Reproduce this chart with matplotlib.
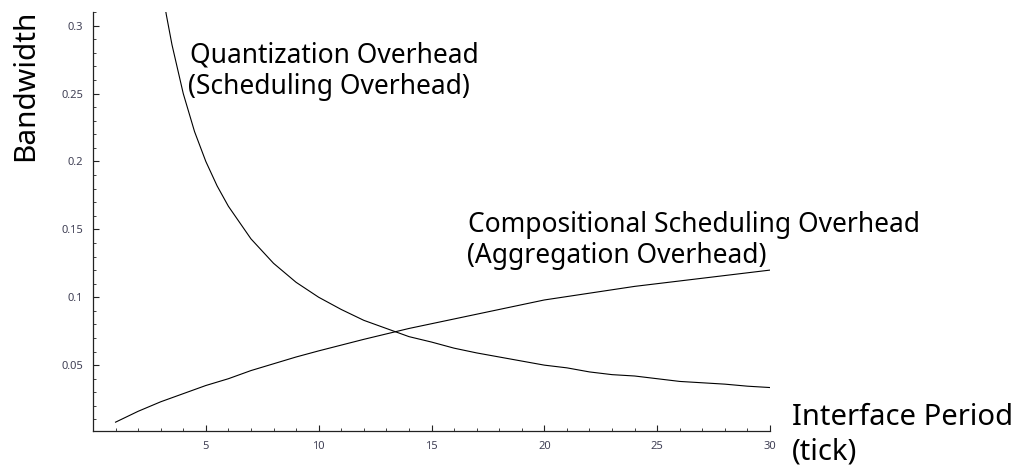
import matplotlib
matplotlib.use("Agg")
import matplotlib.pyplot as plt
from matplotlib.ticker import MultipleLocator

# values
period_q = [3, 3.25, 3.5, 4, 4.5, 5, 5.5, 6, 7, 8, 9, 10, 11, 12, 13, 14, 15,
            16, 17, 18, 19, 20, 21, 22, 23, 24, 25, 26, 27, 28, 29, 30]
quant_overhead = [0.333, 0.308, 0.286, 0.25, 0.222, 0.2, 0.182, 0.167, 0.143,
                  0.125, 0.111, 0.1, 0.091, 0.083, 0.077, 0.071, 0.067,
                  0.0625, 0.059, 0.056, 0.053, 0.05, 0.048, 0.045, 0.043,
                  0.042, 0.040, 0.038, 0.037, 0.036, 0.0345, 0.0335]

period_c = [1, 2, 3, 4, 5, 6, 7, 8, 9, 10, 12, 14, 16, 18, 20, 22, 24, 26,
            28, 30]
comp_overhead = [0.008, 0.016, 0.023, 0.029, 0.035, 0.040, 0.046, 0.051,
                 0.056, 0.0605, 0.069, 0.077, 0.084, 0.091, 0.098, 0.103,
                 0.108, 0.112, 0.116, 0.120]

xticks = [5, 10, 15, 20, 25, 30]
yticks = [0.05, 0.1, 0.15, 0.2, 0.25, 0.3]

plt.rcParams['font.family'] = ['Noto Sans', 'DejaVu Sans']

fig = plt.figure(figsize=(10.24, 4.67), dpi=100)
ax = fig.add_axes([0.0908, 0.0771, 0.6612, 0.897])

ax.plot(period_q, quant_overhead, color='black', lw=0.8)
ax.plot(period_c, comp_overhead, color='black', lw=0.8)

ax.set_xlim(0, 30)
ax.set_ylim(0.0015, 0.31)

for s in ['top', 'right']:
    ax.spines[s].set_visible(False)
for s in ['left', 'bottom']:
    ax.spines[s].set_linewidth(0.9)
    ax.spines[s].set_color('#222222')

ax.set_xticks(xticks)
ax.set_xticklabels([str(t) for t in xticks])
ax.set_yticks(yticks)
ax.set_yticklabels(['0.05', '0.1', '0.15', '0.2', '0.25', '0.3'])
ax.xaxis.set_minor_locator(MultipleLocator(1))
ax.yaxis.set_minor_locator(MultipleLocator(0.01))
ax.tick_params(which='major', direction='in', length=4, width=0.8,
               color='#222222', labelsize=8, labelcolor='#404055')
ax.tick_params(which='minor', direction='in', length=2.5, width=0.6,
               color='#222222')
ax.tick_params(axis='y', which='major', pad=7)
ax.tick_params(axis='x', which='major', pad=7)

# labels placed in figure coords, one text per line
fig.text(0.0254, 0.818, 'Bandwidth', rotation=90, fontsize=21.5,
         ha='center', va='center')
fig.text(0.1855, 0.867, 'Quantization Overhead', fontsize=19,
         ha='left', va='baseline')
fig.text(0.1835, 0.799, '(Scheduling Overhead)', fontsize=19,
         ha='left', va='baseline')
fig.text(0.457, 0.503, 'Compositional Scheduling Overhead', fontsize=19,
         ha='left', va='baseline')
fig.text(0.456, 0.437, '(Aggregation Overhead)', fontsize=19,
         ha='left', va='baseline')
fig.text(0.7734, 0.0899, 'Interface Period', fontsize=21,
         ha='left', va='baseline')
fig.text(0.7734, 0.015, '(tick)', fontsize=21,
         ha='left', va='baseline')

fig.savefig('out.png', dpi=100)
